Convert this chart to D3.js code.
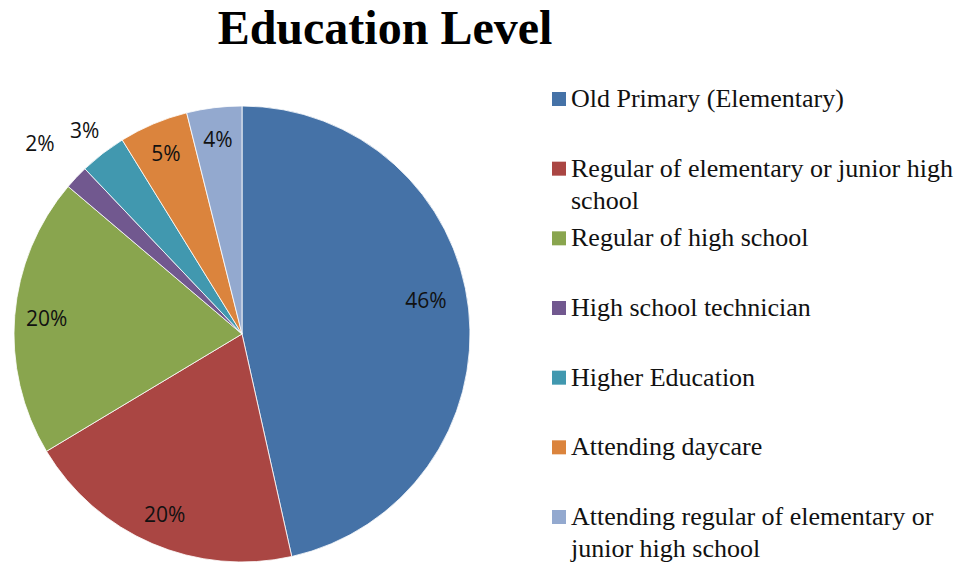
<!DOCTYPE html>
<html>
<head>
<meta charset="utf-8">
<script src="https://cdn.jsdelivr.net/npm/d3@7"></script>
<style>
  html, body { margin: 0; padding: 0; background: #fff; }
  svg { display: block; }
</style>
</head>
<body>
<svg id="chart" width="969" height="566"></svg>
<script>
// data (percent of respondents)
const categories = [
  'Old Primary (Elementary)',
  'Regular of elementary or junior high school',
  'Regular of high school',
  'High school technician',
  'Higher Education',
  'Attending daycare',
  'Attending regular of elementary or junior high school'
];
const values = [46.5, 19.9, 19.8, 1.7, 3.3, 4.9, 3.9];
const pctLabels = ['46%', '20%', '20%', '2%', '3%', '5%', '4%'];
const colors = ['#4572A7', '#AA4643', '#89A54E', '#71588F', '#4198AF', '#DB843D', '#93A9CF'];

const SERIF = "'Liberation Serif', 'Times New Roman', Times, serif";
const SANS = "'Open Sans', 'Noto Sans', sans-serif";

const cx = 242, cy = 334, R = 228;

const svg = d3.select('#chart');

svg.append('text')
  .attr('x', 385).attr('y', 44).attr('text-anchor', 'middle')
  .attr('font-family', SERIF).attr('font-weight', 'bold').attr('font-size', 48)
  .text('Education Level');

// pie, clockwise from 12 o'clock, in data order
const pie = d3.pie().sort(null).value(d => d.v);
const arcs = pie(values.map((v, i) => ({v, i})));
const arc = d3.arc().innerRadius(0).outerRadius(R);

const g = svg.append('g').attr('transform', `translate(${cx},${cy})`);
g.selectAll('path.slice').data(arcs).enter()
  .append('path').attr('class', 'slice')
  .attr('d', arc)
  .attr('fill', d => colors[d.data.i])
  .attr('stroke', '#fff').attr('stroke-width', 0.8);

// labels: big slices inside (~0.86R), tiny ones pushed outside
function labelRadius(d){
  if (d.data.v < 2.5) return R * 1.22;
  if (d.data.v < 3.5) return R * 1.13;
  if (d.data.v > 40) return R * 0.82;
  return R * 0.86;
}
function labelAngle(d){
  const a = (d.startAngle + d.endAngle) / 2;
  return d.data.v > 40 ? a - 0.07 : a;   // excel nudges the big one up a bit
}
g.selectAll('text.pct').data(arcs).enter()
  .append('text').attr('class', 'pct')
  .attr('font-family', SANS).attr('font-size', 21).attr('fill', '#111')
  .attr('text-anchor', 'middle').attr('dy', '0.36em')
  .attr('x', d => Math.sin(labelAngle(d)) * labelRadius(d))
  .attr('y', d => -Math.cos(labelAngle(d)) * labelRadius(d))
  .text(d => pctLabels[d.data.i]);

// legend
const ly = d3.scalePoint().domain(categories).range([107, 525]);
const legend = svg.append('g').attr('class', 'legend');
const textX = 571, maxW = 395, lineH = 32;

categories.forEach((c, i) => {
  const y = ly(c);
  legend.append('rect')
    .attr('x', 552).attr('y', y - 15).attr('width', 14).attr('height', 14)
    .attr('fill', colors[i]);
  const t = legend.append('text')
    .attr('x', textX).attr('y', y)
    .attr('font-family', SERIF).attr('font-size', 26).attr('fill', '#111');
  // simple word wrap
  const words = c.split(' ');
  let line = [], row = 0;
  let tspan = t.append('tspan').attr('x', textX).attr('y', y);
  words.forEach(w => {
    line.push(w);
    tspan.text(line.join(' '));
    if (tspan.node().getComputedTextLength() > maxW && line.length > 1) {
      line.pop();
      tspan.text(line.join(' '));
      line = [w];
      row++;
      tspan = t.append('tspan').attr('x', textX).attr('y', y + row * lineH).text(w);
    }
  });
});
</script>
</body>
</html>
